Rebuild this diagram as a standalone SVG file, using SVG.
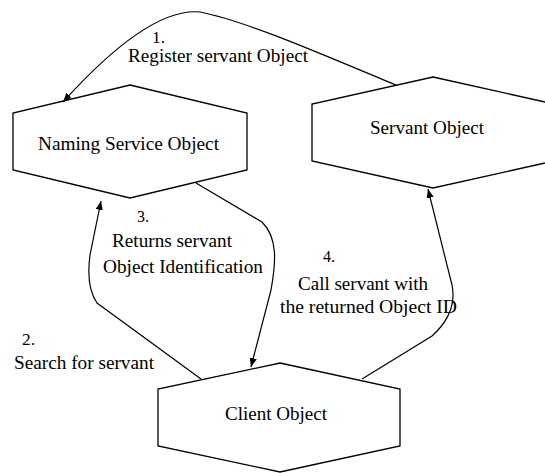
<svg xmlns="http://www.w3.org/2000/svg" width="545" height="473" viewBox="0 0 545 473">
  <style>
    .node { fill: #ffffff; stroke: #000000; stroke-width: 1.3; stroke-linejoin: miter; }
    .edge { fill: none; stroke: #000000; stroke-width: 1.2; }
    text { font-family: "Liberation Serif", "Times New Roman", serif; font-size: 18px; fill: #000000; }
    .step { font-size: 16px; }
  </style>
  <defs>
    <marker id="arrow" viewBox="0 0 10 10" refX="10" refY="5" markerWidth="9" markerHeight="9" markerUnits="userSpaceOnUse" orient="auto">
      <path d="M0,1 L10,5 L0,9 z" fill="#000000"/>
    </marker>
  </defs>
  <rect width="545" height="473" fill="#ffffff"/>

  <!-- hexagonal object nodes -->
  <g id="naming-service">
    <polygon class="node" points="130,85 247,113 247,170 130,198 13,170 13,113"/>
    <text x="38" y="150" textLength="181" lengthAdjust="spacingAndGlyphs">Naming Service Object</text>
  </g>
  <g id="servant">
    <polygon class="node" points="433,77 554,104 554,161 433,188 312,161 312,104"/>
    <text x="370" y="134" textLength="114" lengthAdjust="spacingAndGlyphs">Servant Object</text>
  </g>
  <g id="client">
    <polygon class="node" points="280,363 400,389 400,446 280,472 158,446 158,389"/>
    <text x="225" y="420" textLength="102" lengthAdjust="spacingAndGlyphs">Client Object</text>
  </g>

  <!-- message flows between objects -->
  <g id="connectors">
    <path class="edge" marker-end="url(#arrow)" d="M396,85 C330,58 250,22 200,12 C160,8 110,50 63,102"/>
    <path class="edge" marker-end="url(#arrow)" d="M201,379 L97,303 C88,290 88,270 90,255 L101,201"/>
    <path class="edge" marker-end="url(#arrow)" d="M196,183 L262,222 C278,238 276,262 271,290 L251,367"/>
    <path class="edge" marker-end="url(#arrow)" d="M362,379 L432,336 C452,318 455,300 452,285 L428,189"/>
  </g>

  <!-- step labels -->
  <g id="labels">
    <text class="step" x="152" y="43" textLength="13" lengthAdjust="spacingAndGlyphs">1.</text>
    <text x="128" y="62" textLength="180" lengthAdjust="spacingAndGlyphs">Register servant Object</text>
    <text class="step" x="22" y="345" textLength="13" lengthAdjust="spacingAndGlyphs">2.</text>
    <text x="14" y="369" textLength="140" lengthAdjust="spacingAndGlyphs">Search for servant</text>
    <text class="step" x="137" y="222" textLength="12" lengthAdjust="spacingAndGlyphs">3.</text>
    <text x="112" y="247" textLength="120" lengthAdjust="spacingAndGlyphs">Returns servant</text>
    <text x="103" y="273" textLength="160" lengthAdjust="spacingAndGlyphs">Object Identification</text>
    <text class="step" x="323" y="262" textLength="12" lengthAdjust="spacingAndGlyphs">4.</text>
    <text x="298" y="290" textLength="130" lengthAdjust="spacingAndGlyphs">Call servant with</text>
    <text x="280" y="313" textLength="177" lengthAdjust="spacingAndGlyphs">the returned Object ID</text>
  </g>
</svg>
